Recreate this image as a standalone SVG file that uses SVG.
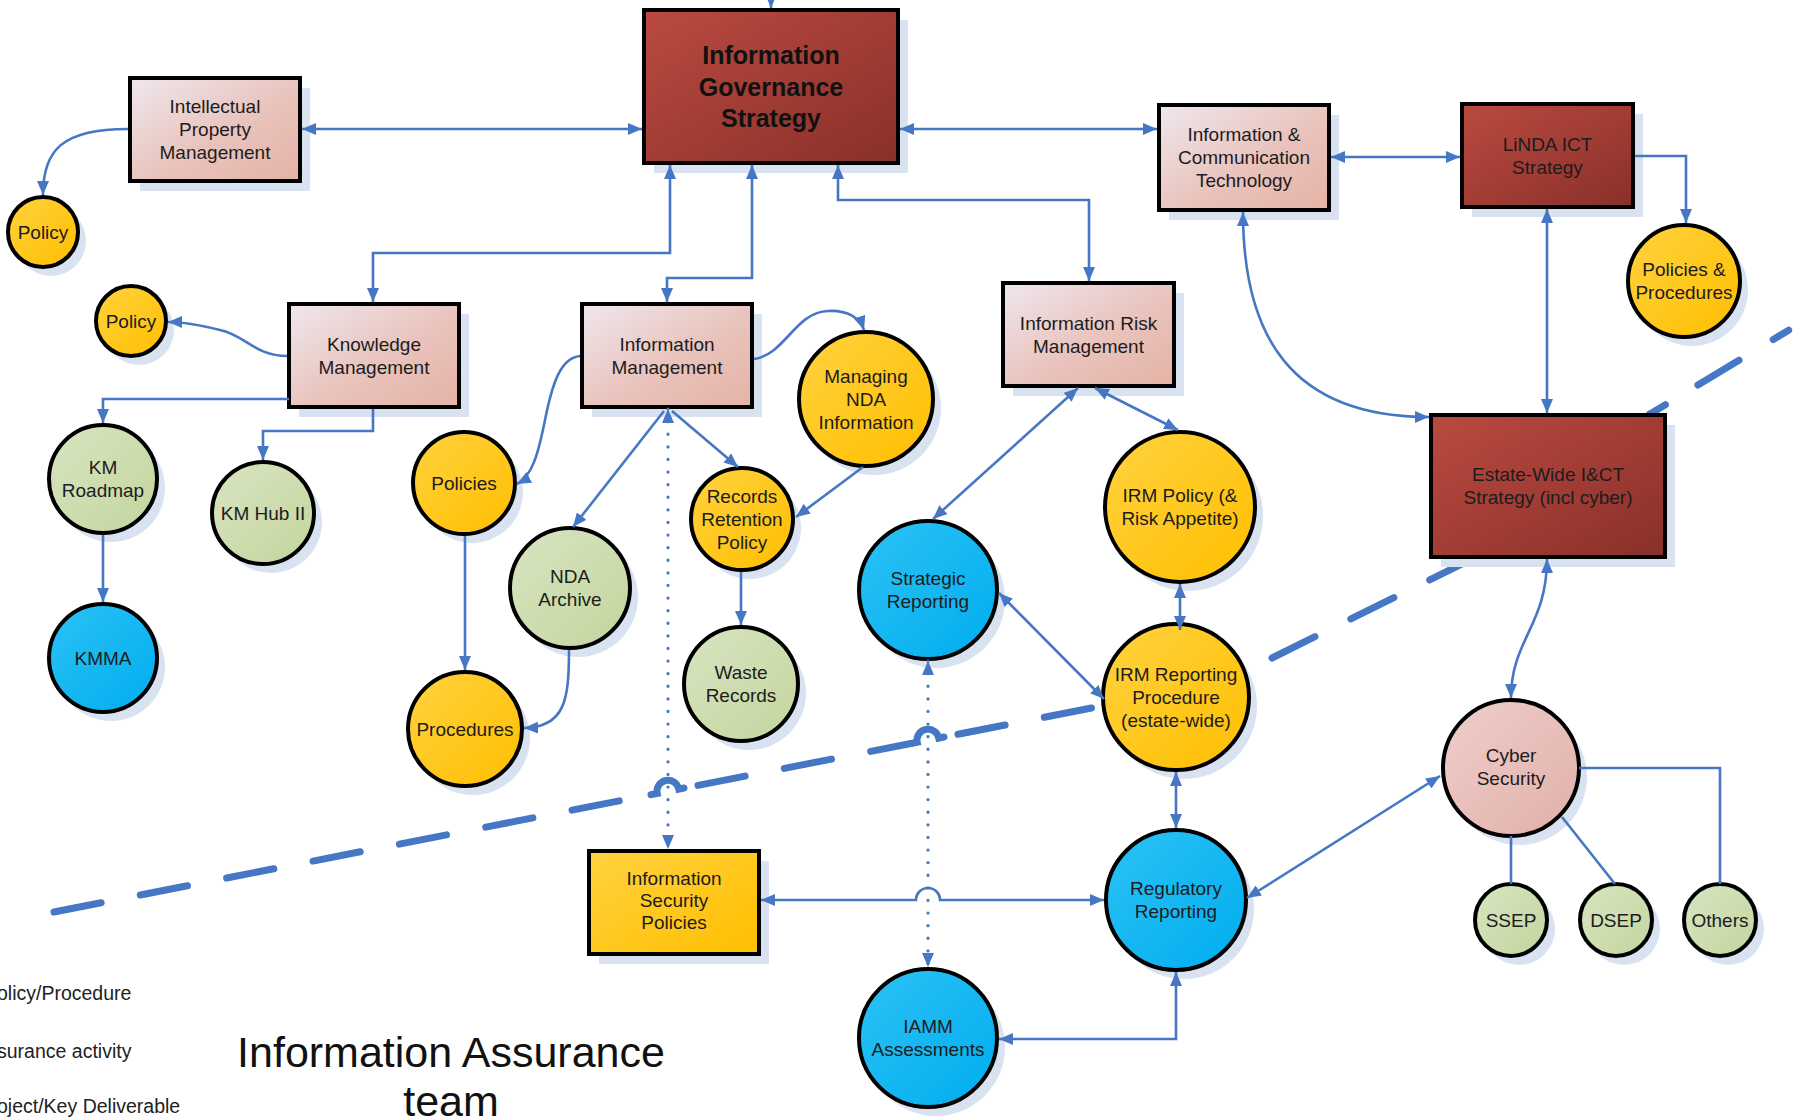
<svg xmlns="http://www.w3.org/2000/svg" width="1817" height="1120" viewBox="0 0 1817 1120">
  <defs>
    <linearGradient id="gPink" x1="0" y1="0" x2="1" y2="1">
      <stop offset="0" stop-color="#efe7ee"/>
      <stop offset="0.55" stop-color="#e9c3bc"/>
      <stop offset="1" stop-color="#e5b3a6"/>
    </linearGradient>
    <linearGradient id="gRed" x1="0" y1="0" x2="1" y2="1">
      <stop offset="0" stop-color="#bb4a40"/>
      <stop offset="1" stop-color="#88302a"/>
    </linearGradient>
    <linearGradient id="gYellow" x1="0" y1="0" x2="1" y2="1">
      <stop offset="0" stop-color="#ffd23f"/>
      <stop offset="1" stop-color="#ffbf00"/>
    </linearGradient>
    <linearGradient id="gGreen" x1="0" y1="0" x2="1" y2="1">
      <stop offset="0" stop-color="#d8e5c2"/>
      <stop offset="1" stop-color="#c3d59d"/>
    </linearGradient>
    <linearGradient id="gBlue" x1="0" y1="0" x2="1" y2="1">
      <stop offset="0" stop-color="#2cc2f6"/>
      <stop offset="1" stop-color="#00adee"/>
    </linearGradient>
    <linearGradient id="gRose" x1="0" y1="0" x2="1" y2="1">
      <stop offset="0" stop-color="#efcfcb"/>
      <stop offset="1" stop-color="#e2afa9"/>
    </linearGradient>
    <marker id="ah" viewBox="0 0 14 12" refX="14" refY="6" markerWidth="14" markerHeight="12" markerUnits="userSpaceOnUse" orient="auto-start-reverse">
      <path d="M0,0 L14,6 L0,12 z" fill="#4677c4"/>
    </marker>
    <style>
      .sh { fill:#d9e2f1; }
      .bx { stroke:#000; stroke-width:4; }
      .pink { fill:url(#gPink); }
      .red { fill:url(#gRed); }
      .yel { fill:url(#gYellow); }
      .grn { fill:url(#gGreen); }
      .blu { fill:url(#gBlue); }
      .rose { fill:url(#gRose); }
      .lbl { font-family:"Liberation Sans", Arial, sans-serif; font-size:19px; fill:#1c1c1c; text-anchor:middle; }
      .big { font-family:"Liberation Sans", Arial, sans-serif; font-size:25px; font-weight:bold; fill:#111; text-anchor:middle; }
      .leg { font-family:"Liberation Sans", Arial, sans-serif; font-size:19.5px; fill:#222; }
      .ttl { font-family:"Liberation Sans", Arial, sans-serif; font-size:43px; fill:#111; text-anchor:middle; }
      .cn { fill:none; stroke:#4677c4; stroke-width:2.6; }
      .arr2 { marker-start:url(#ah); marker-end:url(#ah); }
      .arr { marker-end:url(#ah); }
      .dot { stroke-dasharray:0.1 12.5; stroke-linecap:round; stroke-width:3.2; }
      .dash { fill:none; stroke:#4677c4; stroke-width:7; stroke-linecap:round; stroke-dasharray:48 40; }
      .hop { fill:none; stroke:#4677c4; stroke-width:7; stroke-linecap:round; }
    </style>
  </defs>

  <rect width="1817" height="1120" fill="#fff"/>

  <!-- boundary line between strategy and assurance areas -->
  <g id="boundary">
    <path class="dash" d="M54,912 L651,794.6"/>
    <path class="hop" d="M651,794.6 L657.2,793.4 A11,11 0 0 1 678.8,789.1 L684,788"/>
    <path class="dash" d="M698,785.4 L911,743.5"/>
    <path class="hop" d="M911,743.5 L917.2,742.3 A11,11 0 0 1 938.8,738.1 L944,737"/>
    <path class="dash" d="M958,734.3 L1223,682"/>
    <path class="dash" d="M1272,658 L1500,545 L1650,414"/>
    <path class="dash" d="M1650,414 L1817,313" style="stroke-dasharray:18 38 48 40"/>
  </g>

  <!-- legend (left edge) and team title -->
  <g id="legend">
    <text class="leg" x="-3" y="1000">olicy/Procedure</text>
    <text class="leg" x="-3" y="1058">surance activity</text>
    <text class="leg" x="-3" y="1113">oject/Key Deliverable</text>
    <text class="ttl" x="451" y="1067">Information Assurance</text>
    <text class="ttl" x="451" y="1116">team</text>
  </g>

  <!-- nodes -->
  <g id="ig-strategy">
    <rect class="sh" x="654" y="20" width="254" height="153"/>
    <rect class="bx red" x="644" y="10" width="254" height="153"/>
    <text class="big"><tspan x="771" y="64">Information</tspan><tspan x="771" y="95.5">Governance</tspan><tspan x="771" y="127">Strategy</tspan></text>
  </g>
  <g id="ip-management">
    <rect class="sh" x="140" y="88" width="170" height="103"/>
    <rect class="bx pink" x="130" y="78" width="170" height="103"/>
    <text class="lbl"><tspan x="215" y="113">Intellectual</tspan><tspan x="215" y="136">Property</tspan><tspan x="215" y="159">Management</tspan></text>
  </g>
  <g id="policy-ip">
    <circle class="sh" cx="51" cy="241" r="35"/>
    <circle class="bx yel" cx="43" cy="232" r="35"/>
    <text class="lbl" x="43" y="238.5">Policy</text>
  </g>
  <g id="policy-km">
    <circle class="sh" cx="139" cy="330" r="35"/>
    <circle class="bx yel" cx="131" cy="321" r="35"/>
    <text class="lbl" x="131" y="327.5">Policy</text>
  </g>
  <g id="knowledge-management">
    <rect class="sh" x="299" y="314" width="170" height="103"/>
    <rect class="bx pink" x="289" y="304" width="170" height="103"/>
    <text class="lbl"><tspan x="374" y="350.5">Knowledge</tspan><tspan x="374" y="373.5">Management</tspan></text>
  </g>
  <g id="information-management">
    <rect class="sh" x="592" y="314" width="170" height="103"/>
    <rect class="bx pink" x="582" y="304" width="170" height="103"/>
    <text class="lbl"><tspan x="667" y="350.5">Information</tspan><tspan x="667" y="373.5">Management</tspan></text>
  </g>
  <g id="managing-nda-info">
    <circle class="sh" cx="874" cy="408" r="67"/>
    <circle class="bx yel" cx="866" cy="399" r="67"/>
    <text class="lbl"><tspan x="866" y="382.5">Managing</tspan><tspan x="866" y="405.5">NDA</tspan><tspan x="866" y="428.5">Information</tspan></text>
  </g>
  <g id="irm">
    <rect class="sh" x="1013" y="293" width="171" height="103"/>
    <rect class="bx pink" x="1003" y="283" width="171" height="103"/>
    <text class="lbl"><tspan x="1088.5" y="329.5">Information Risk</tspan><tspan x="1088.5" y="352.5">Management</tspan></text>
  </g>
  <g id="ict">
    <rect class="sh" x="1169" y="115" width="170" height="105"/>
    <rect class="bx pink" x="1159" y="105" width="170" height="105"/>
    <text class="lbl"><tspan x="1244" y="141">Information &amp;</tspan><tspan x="1244" y="164">Communication</tspan><tspan x="1244" y="187">Technology</tspan></text>
  </g>
  <g id="linda-ict">
    <rect class="sh" x="1472" y="114" width="171" height="103"/>
    <rect class="bx red" x="1462" y="104" width="171" height="103"/>
    <text class="lbl"><tspan x="1547.5" y="150.5">LiNDA ICT</tspan><tspan x="1547.5" y="173.5">Strategy</tspan></text>
  </g>
  <g id="policies-procedures-ict">
    <circle class="sh" cx="1692" cy="290" r="56"/>
    <circle class="bx yel" cx="1684" cy="281" r="56"/>
    <text class="lbl"><tspan x="1684" y="276">Policies &amp;</tspan><tspan x="1684" y="299">Procedures</tspan></text>
  </g>
  <g id="estate-ict">
    <rect class="sh" x="1441" y="425" width="234" height="142"/>
    <rect class="bx red" x="1431" y="415" width="234" height="142"/>
    <text class="lbl"><tspan x="1548" y="481">Estate-Wide I&amp;CT</tspan><tspan x="1548" y="504">Strategy (incl cyber)</tspan></text>
  </g>
  <g id="km-roadmap">
    <circle class="sh" cx="111" cy="488" r="54"/>
    <circle class="bx grn" cx="103" cy="479" r="54"/>
    <text class="lbl"><tspan x="103" y="474">KM</tspan><tspan x="103" y="497">Roadmap</tspan></text>
  </g>
  <g id="km-hub">
    <circle class="sh" cx="271" cy="522" r="51"/>
    <circle class="bx grn" cx="263" cy="513" r="51"/>
    <text class="lbl" x="263" y="519.5">KM Hub II</text>
  </g>
  <g id="kmma">
    <circle class="sh" cx="111" cy="667" r="54"/>
    <circle class="bx blu" cx="103" cy="658" r="54"/>
    <text class="lbl" x="103" y="664.5">KMMA</text>
  </g>
  <g id="policies">
    <circle class="sh" cx="472" cy="492" r="51"/>
    <circle class="bx yel" cx="464" cy="483" r="51"/>
    <text class="lbl" x="464" y="489.5">Policies</text>
  </g>
  <g id="nda-archive">
    <circle class="sh" cx="578" cy="597" r="60"/>
    <circle class="bx grn" cx="570" cy="588" r="60"/>
    <text class="lbl"><tspan x="570" y="583">NDA</tspan><tspan x="570" y="606">Archive</tspan></text>
  </g>
  <g id="procedures">
    <circle class="sh" cx="473" cy="738" r="57"/>
    <circle class="bx yel" cx="465" cy="729" r="57"/>
    <text class="lbl" x="465" y="735.5">Procedures</text>
  </g>
  <g id="records-retention">
    <circle class="sh" cx="750" cy="528" r="51"/>
    <circle class="bx yel" cx="742" cy="519" r="51"/>
    <text class="lbl"><tspan x="742" y="502.5">Records</tspan><tspan x="742" y="525.5">Retention</tspan><tspan x="742" y="548.5">Policy</tspan></text>
  </g>
  <g id="waste-records">
    <circle class="sh" cx="749" cy="693" r="57"/>
    <circle class="bx grn" cx="741" cy="684" r="57"/>
    <text class="lbl"><tspan x="741" y="679">Waste</tspan><tspan x="741" y="702">Records</tspan></text>
  </g>
  <g id="strategic-reporting">
    <circle class="sh" cx="936" cy="599" r="69"/>
    <circle class="bx blu" cx="928" cy="590" r="69"/>
    <text class="lbl"><tspan x="928" y="585">Strategic</tspan><tspan x="928" y="608">Reporting</tspan></text>
  </g>
  <g id="irm-policy">
    <circle class="sh" cx="1188" cy="516" r="75"/>
    <circle class="bx yel" cx="1180" cy="507" r="75"/>
    <text class="lbl"><tspan x="1180" y="502">IRM Policy (&amp;</tspan><tspan x="1180" y="525">Risk Appetite)</tspan></text>
  </g>
  <g id="irm-reporting">
    <circle class="sh" cx="1184" cy="706" r="73"/>
    <circle class="bx yel" cx="1176" cy="697" r="73"/>
    <text class="lbl"><tspan x="1176" y="680.5">IRM Reporting</tspan><tspan x="1176" y="703.5">Procedure</tspan><tspan x="1176" y="726.5">(estate-wide)</tspan></text>
  </g>
  <g id="regulatory-reporting">
    <circle class="sh" cx="1184" cy="909" r="70"/>
    <circle class="bx blu" cx="1176" cy="900" r="70"/>
    <text class="lbl"><tspan x="1176" y="895">Regulatory</tspan><tspan x="1176" y="918">Reporting</tspan></text>
  </g>
  <g id="iamm">
    <circle class="sh" cx="936" cy="1047" r="69"/>
    <circle class="bx blu" cx="928" cy="1038" r="69"/>
    <text class="lbl"><tspan x="928" y="1033">IAMM</tspan><tspan x="928" y="1056">Assessments</tspan></text>
  </g>
  <g id="info-security-policies">
    <rect class="sh" x="599" y="861" width="170" height="103"/>
    <rect class="bx yel" x="589" y="851" width="170" height="103"/>
    <text class="lbl"><tspan x="674" y="885">Information</tspan><tspan x="674" y="907">Security</tspan><tspan x="674" y="929">Policies</tspan></text>
  </g>
  <g id="cyber-security">
    <circle class="sh" cx="1519" cy="777" r="68"/>
    <circle class="bx rose" cx="1511" cy="768" r="68"/>
    <text class="lbl"><tspan x="1511" y="762">Cyber</tspan><tspan x="1511" y="785">Security</tspan></text>
  </g>
  <g id="ssep">
    <circle class="sh" cx="1519" cy="929" r="36"/>
    <circle class="bx grn" cx="1511" cy="920" r="36"/>
    <text class="lbl" x="1511" y="926.5">SSEP</text>
  </g>
  <g id="dsep">
    <circle class="sh" cx="1624" cy="929" r="36"/>
    <circle class="bx grn" cx="1616" cy="920" r="36"/>
    <text class="lbl" x="1616" y="926.5">DSEP</text>
  </g>
  <g id="others">
    <circle class="sh" cx="1728" cy="929" r="36"/>
    <circle class="bx grn" cx="1720" cy="920" r="36"/>
    <text class="lbl" x="1720" y="926.5">Others</text>
  </g>

  <!-- connectors -->
  <g id="connectors">
    <path class="cn arr" d="M771,-6 L771,8"/>
    <path class="cn arr2" d="M302,129 L642,129"/>
    <path class="cn arr" d="M128,129 C62,129 43,150 43,195"/>
    <path class="cn arr2" d="M373,302 L373,253 L670,253 L670,165"/>
    <path class="cn arr2" d="M752,165 L752,278 L667,278 L667,302"/>
    <path class="cn arr2" d="M838,165 L838,200 L1089,200 L1089,281"/>
    <path class="cn arr2" d="M900,129 L1157,129"/>
    <path class="cn arr2" d="M1331,157 L1460,157"/>
    <path class="cn arr" d="M1635,156 L1686,156 L1686,223"/>
    <path class="cn arr2" d="M1547,209 L1547,413"/>
    <path class="cn arr2" d="M1243,212 C1243,335 1290,417 1429,417"/>
    <path class="cn arr2" d="M1547,559 C1547,625 1511,640 1511,698"/>
    <path class="cn" d="M1511,836 L1511,884"/>
    <path class="cn" d="M1562,817 L1615,884"/>
    <path class="cn" d="M1579,768 L1720,768 L1720,884"/>
    <path class="cn arr2" d="M1247,898 L1440,776"/>
    <path class="cn arr2" d="M1176,772 L1176,828"/>
    <path class="cn arr2" d="M1180,584 L1180,630"/>
    <path class="cn arr2" d="M1095,388 L1178,430"/>
    <path class="cn arr2" d="M1078,388 L933,519"/>
    <path class="cn arr2" d="M999,593 L1104,699"/>
    <path class="cn dot arr2" d="M928,661 L928,967"/>
    <path class="cn dot arr2" d="M668,409 L668,849"/>
    <path class="cn arr" d="M664,411 L573,527"/>
    <path class="cn arr" d="M672,411 L738,467"/>
    <path class="cn arr" d="M580,356 C560,358 552,385 545,420 C538,455 532,476 517,484"/>
    <path class="cn arr" d="M754,359 C785,355 795,312 828,311 C848,310 860,318 864,330"/>
    <path class="cn arr" d="M863,467 L796,517"/>
    <path class="cn arr" d="M741,572 L741,625"/>
    <path class="cn arr" d="M465,536 L465,670"/>
    <path class="cn arr" d="M569,650 C569,700 565,727 524,728"/>
    <path class="cn arr" d="M287,356 C255,356 245,335 220,330 C200,325 185,322 168,322"/>
    <path class="cn arr" d="M289,399 L103,399 L103,423"/>
    <path class="cn arr" d="M373,409 L373,431 L263,431 L263,460"/>
    <path class="cn arr" d="M103,535 L103,602"/>
    <path class="cn arr2" d="M761,900 L916,900 A12,12 0 0 1 940,900 L1104,900"/>
    <path class="cn arr2" d="M1176,972 L1176,1039 L999,1039"/>
  </g>
</svg>
